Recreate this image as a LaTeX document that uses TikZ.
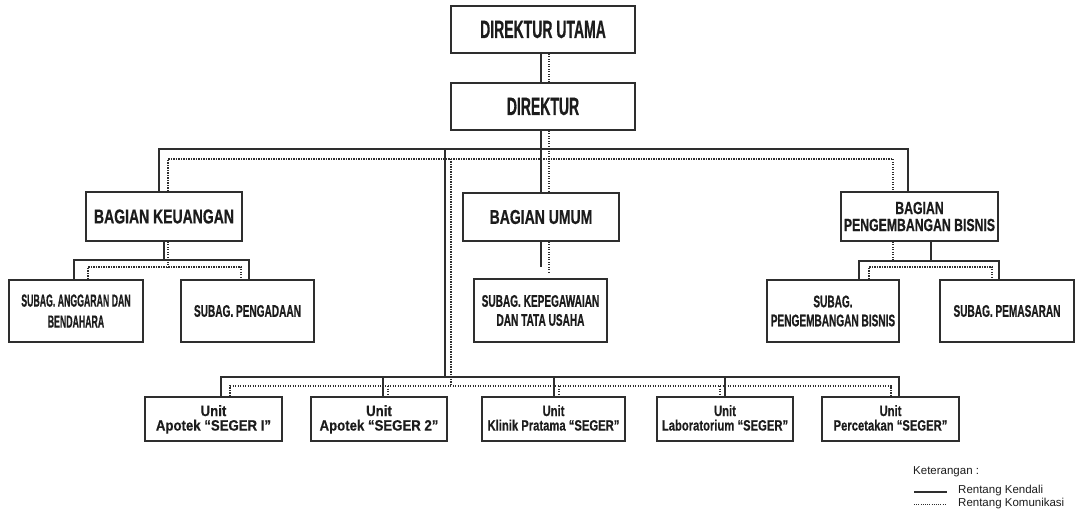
\documentclass[tikz,border=0pt]{standalone}
\usepackage{fontspec}
\setmainfont{Liberation Sans}
\newfontfamily\condT[FakeStretch=0.56,FakeBold=0.6]{Liberation Sans}
\newfontfamily\condA[FakeStretch=0.6,FakeBold=0.6]{Liberation Sans}
\newfontfamily\condB[FakeStretch=0.7,FakeBold=0.6]{Liberation Sans}
\newfontfamily\condC[FakeStretch=0.5,FakeBold=0.6]{Liberation Sans}
\newfontfamily\condD[FakeStretch=0.75,FakeBold=0.4]{Liberation Sans}
\newfontfamily\condE[FakeStretch=0.88,FakeBold=0.4]{Liberation Sans}
\definecolor{ink}{HTML}{2E2E2E}
\definecolor{txt}{HTML}{1C1C1C}
\tikzset{
  box/.style={draw=ink, line width=1.6pt, inner sep=0pt, align=center, text=txt},
  unitbox/.style={draw=ink, line width=2pt, inner sep=0pt},
  sl/.style={draw=ink, line width=1.5pt},
  dl/.style={draw=ink, line width=1.2pt, dash pattern=on 1.2pt off 1.3pt},
  titleA/.style={font=\condT\bfseries\fontsize{25}{27}\selectfont},
  titleB/.style={font=\condB\bfseries\fontsize{20}{22}\selectfont},
  subA/.style={font=\condA\bfseries\fontsize{16.8}{19}\selectfont},
  unittext/.style={align=center, text=txt, inner sep=0pt, anchor=north},
  unitD/.style={unittext, font=\condD\bfseries\fontsize{15}{14.5}\selectfont},
  unitE/.style={unittext, font=\condE\bfseries\fontsize{15}{14.5}\selectfont},
  legtext/.style={font=\fontsize{11.5}{13}\selectfont, text=txt, inner sep=0pt, anchor=west}
}
\begin{document}
\begin{tikzpicture}[x=1pt,y=-1pt]
\useasboundingbox (0,0) rectangle (1087,521);
% top
\node[box,titleA,minimum width=184pt,minimum height=47pt] (du) at (543,29.5) {DIREKTUR UTAMA};
\node[box,titleA,minimum width=184pt,minimum height=47pt] (dir) at (543,106.5) {DIREKTUR};
% bagian
\node[box,titleB,minimum width=156pt,minimum height=49pt] (keu) at (164,216.5) {BAGIAN KEUANGAN};
\node[box,titleB,minimum width=156pt,minimum height=48pt] (umum) at (541,217) {BAGIAN UMUM};
\node[box,font=\condB\bfseries\fontsize{17.5}{17}\selectfont,minimum width=157pt,minimum height=49pt] (pb) at (919.5,216.5) {BAGIAN\\PENGEMBANGAN BISNIS};
% subag
\node[box,font=\condC\bfseries\fontsize{17.5}{21}\selectfont,minimum width=134pt,minimum height=62pt] (sa) at (76,311) {SUBAG. ANGGARAN DAN\\BENDAHARA};
\node[box,subA,minimum width=133pt,minimum height=62pt] (sp) at (247.5,311) {SUBAG. PENGADAAN};
\node[box,subA,minimum width=133pt,minimum height=63pt] (sk) at (540.5,310.5) {SUBAG. KEPEGAWAIAN\\DAN TATA USAHA};
\node[box,subA,minimum width=132pt,minimum height=62pt] (spb) at (833,311) {SUBAG.\\PENGEMBANGAN BISNIS};
\node[box,subA,minimum width=134pt,minimum height=62pt] (spm) at (1007,311) {SUBAG. PEMASARAN};
% units
\node[unitbox,minimum width=137pt,minimum height=44pt] (u1) at (213.5,419) {};
\node[unitbox,minimum width=136pt,minimum height=44pt] (u2) at (379,419) {};
\node[unitbox,minimum width=143pt,minimum height=44pt] (u3) at (553.5,419) {};
\node[unitbox,minimum width=136pt,minimum height=44pt] (u4) at (725,419) {};
\node[unitbox,minimum width=137pt,minimum height=44pt] (u5) at (890.5,419) {};
\node[unitE] (u1t) at ([yshift=-9pt]u1.north) {Unit\\Apotek “SEGER I”};
\node[unitE] (u2t) at ([yshift=-9pt]u2.north) {Unit\\Apotek “SEGER 2”};
\node[unitD] (u3t) at ([yshift=-9pt]u3.north) {Unit\\Klinik Pratama “SEGER”};
\node[unitD] (u4t) at ([yshift=-9pt]u4.north) {Unit\\Laboratorium “SEGER”};
\node[unitD] (u5t) at ([yshift=-9pt]u5.north) {Unit\\Percetakan “SEGER”};
% junction coordinates
\coordinate (cs) at (541,149); \coordinate (cd) at (549,159);
\coordinate (mL) at (159,149); \coordinate (mR) at (908,149);
\coordinate (dL) at (168,159); \coordinate (dR) at (893,159);
\coordinate (us) at (541,267); \coordinate (ud) at (549,272);
\coordinate (ts) at (445,149); \coordinate (tsb) at (445,377);
\coordinate (td) at (451,159); \coordinate (tdb) at (451,386);
\coordinate (bL) at (221,377); \coordinate (bR) at (899,377);
\coordinate (b2) at (383,377); \coordinate (b3) at (554,377); \coordinate (b4) at (725,377);
\coordinate (eL) at (230,386); \coordinate (eR) at (891,386);
\coordinate (e2) at (388,386); \coordinate (e3) at (559,386); \coordinate (e4) at (720,386);
\coordinate (ks) at (164,260); \coordinate (ksL) at (74,260); \coordinate (ksR) at (249,260);
\coordinate (kd) at (168,267); \coordinate (kdL) at (88,267); \coordinate (kdR) at (241,267);
\coordinate (ps) at (931,261); \coordinate (psL) at (859,261); \coordinate (psR) at (999,261);
\coordinate (pd) at (893,260); \coordinate (pdL) at (869,267); \coordinate (pdR) at (992,267);
% direktur chain
\draw[sl] (du.south -| cs) -- (dir.north -| cs);
\draw[dl] (du.south -| cd) -- (dir.north -| cd);
\draw[sl] (dir.south -| cs) -- (umum.north -| cs);
\draw[dl] (dir.south -| cd) -- (umum.north -| cd);
% main horizontals
\draw[sl] (keu.north -| mL) -- (mL) -- (mR) -- (pb.north -| mR);
\draw[dl] (keu.north -| dL) -- (dL) -- (dR) -- (pb.north -| dR);
% umum below
\draw[sl] (umum.south -| us) -- (us);
\draw[dl] (umum.south -| ud) -- (ud);
% trunk to units
\draw[sl] (ts) -- (tsb);
\draw[dl] (td) -- (tdb);
\draw[sl] (u1.north -| bL) -- (bL) -- (bR) -- (u5.north -| bR);
\draw[sl] (b2) -- (u2.north -| b2);
\draw[sl] (b3) -- (u3.north -| b3);
\draw[sl] (b4) -- (u4.north -| b4);
\draw[dl] (u1.north -| eL) -- (eL) -- (eR) -- (u5.north -| eR);
\draw[dl] (e2) -- (u2.north -| e2);
\draw[dl] (e3) -- (u3.north -| e3);
\draw[dl] (e4) -- (u4.north -| e4);
% keuangan subs
\draw[sl] (keu.south -| ks) -- (ks);
\draw[sl] (sa.north -| ksL) -- (ksL) -- (ksR) -- (sp.north -| ksR);
\draw[dl] (keu.south -| kd) -- (kd);
\draw[dl] (sa.north -| kdL) -- (kdL) -- (kdR) -- (sp.north -| kdR);
% pb subs
\draw[sl] (pb.south -| ps) -- (ps);
\draw[sl] (spb.north -| psL) -- (psL) -- (psR) -- (spm.north -| psR);
\draw[dl] (pb.south -| pd) -- (pd);
\draw[dl] (spb.north -| pdL) -- (pdL) -- (pdR) -- (spm.north -| pdR);
% legend
\node[legtext] (ket) at (913,472) {Keterangan :};
\coordinate (l1a) at (914,492); \coordinate (l1b) at (947,492);
\coordinate (l2a) at (914,504); \coordinate (l2b) at (947,504);
\draw[draw=ink, line width=1.2pt] (l1a) -- (l1b);
\draw[draw=ink, line width=1pt, dash pattern=on 1pt off 1.2pt] (l2a) -- (l2b);
\node[legtext] (lk) at (958,491) {Rentang Kendali};
\node[legtext] (lm) at (958,504) {Rentang Komunikasi};
\end{tikzpicture}
\end{document}
